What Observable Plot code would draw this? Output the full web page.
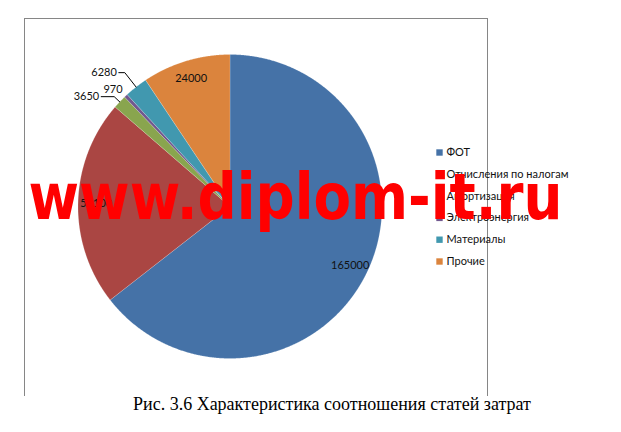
<!DOCTYPE html>
<html><head><meta charset="utf-8">
<script src="https://cdn.jsdelivr.net/npm/d3@7"></script>
<script src="https://cdn.jsdelivr.net/npm/@observablehq/plot@0.6"></script>
<style>
body{margin:0;background:#fff;}
#wrap{position:relative;width:621px;height:432px;overflow:hidden;}
#cap{position:absolute;left:0;top:395px;width:621px;font-family:"Liberation Serif","Times New Roman",serif;font-size:18px;line-height:18px;color:#000;}
#cap span{position:absolute;left:133px;top:0;white-space:nowrap;}
</style></head>
<body><div id="wrap"><div id="chart"></div><div id="cap"><span id="capt"></span></div></div>
<script>
const categories = ["ФОТ","Отчисления по налогам","Амортизация","Электроэнергия","Материалы","Прочие"];
const values = [165000, 56100, 3650, 970, 6280, 24000];
const colors = ["#4572A7","#AA4643","#89A54E","#71588F","#4198AF","#DB843D"];
const captionText = "Рис. 3.6 Характеристика соотношения статей затрат";
const watermark = "www.diplom-it.ru";

const W = 621, H = 396;
const cx = 229.5, cy = 206, R = 152;
const rows = categories.map((name, i) => ({name, value: values[i], color: colors[i]}));
const arcs = d3.pie().sort(null).value(d => d.value)(rows);
const pt = (a, r) => [cx + r * Math.sin(a), cy - r * Math.cos(a)];

const poly = [];
arcs.forEach(a => {
  poly.push({name: a.data.name, x: cx, y: cy});
  const n = Math.max(4, Math.ceil((a.endAngle - a.startAngle) / 0.005));
  for (let k = 0; k <= n; k++) {
    const ang = a.startAngle + (a.endAngle - a.startAngle) * k / n;
    const [x, y] = pt(ang, R);
    poly.push({name: a.data.name, x, y});
  }
  poly.push({name: a.data.name, x: cx, y: cy});
});

// layout of outside labels: [elbow radius factor, horizontal leader length]
const leaderLayout = {"Амортизация": [1.05, 13], "Материалы": [1.12, 6]};
const inLabels = [], outLabels = [], leaders = [];
arcs.forEach(a => {
  const mid = (a.startAngle + a.endAngle) / 2;
  const frac = (a.endAngle - a.startAngle) / (2 * Math.PI);
  if (frac > 0.05) {
    const [x, y] = pt(mid, R * 0.88);
    inLabels.push({x, y, t: String(a.data.value)});
  } else if (leaderLayout[a.data.name]) {
    const [f, len] = leaderLayout[a.data.name];
    const [x0, y0] = pt(mid, R);
    const [x1, y1] = pt(mid, R * f);
    const x2 = x1 - len;
    leaders.push({id: a.data.name, x: x0, y: y0}, {id: a.data.name, x: x1, y: y1}, {id: a.data.name, x: x2, y: y1});
    outLabels.push({x: x2 - 2, y: y1, t: String(a.data.value)});
  } else {
    const [x, y] = pt(mid, R * 1.06);
    outLabels.push({x: x + 3, y: y, t: String(a.data.value)});
  }
});

const legY0 = 152, legDy = 21.8;
const legend = rows.map((d, i) => ({name: d.name, color: d.color, x: 439, y: legY0 + i * legDy}));

const frameL = 24, frameR = 487, frameT = 18, frameB = 396;

const chart = Plot.plot({
  width: W, height: H,
  margin: 0,
  x: {domain: [0, W], range: [0, W], axis: null},
  y: {domain: [0, H], range: [0, H], axis: null},
  style: {background: "#fff", overflow: "visible"},
  marks: [
    Plot.ruleX([frameL, frameR], {y1: frameT, y2: frameB, stroke: "#868686", strokeWidth: 1}),
    Plot.ruleY([frameT], {x1: frameL, x2: frameR, stroke: "#868686", strokeWidth: 1}),
    Plot.line(poly, {x: "x", y: "y", z: "name", fill: d => rows.find(r => r.name === d.name).color, stroke: "#fff", strokeWidth: 0.3, strokeOpacity: 0.6, curve: "linear"}),
    Plot.line(leaders, {x: "x", y: "y", z: "id", stroke: "#000", strokeWidth: 1}),
    Plot.text(inLabels, {x: "x", y: "y", text: "t", fontSize: 11, fill: "#111", fontFamily: "Lato, 'Open Sans', sans-serif"}),
    Plot.text(outLabels, {x: "x", y: "y", text: "t", textAnchor: "end", fontSize: 11, fill: "#111", fontFamily: "Lato, 'Open Sans', sans-serif"}),
    Plot.dot(legend, {x: "x", y: "y", symbol: "square", r: 3.6, fill: "color", stroke: "none"}),
    Plot.text(legend, {x: d => d.x + 7, y: "y", text: "name", textAnchor: "start", fontSize: 11, fill: "#111", fontFamily: "Lato, 'Open Sans', sans-serif"}),
    Plot.text([watermark], {x: () => 28, y: () => 218, text: d => d, textAnchor: "start", lineAnchor: "bottom", fontSize: 64, fontWeight: "bold", fill: "#ff0000", fontFamily: "'DejaVu Sans', sans-serif"})
  ]
});
document.getElementById("chart").appendChild(chart);
d3.select(chart).selectAll("text").filter(function(){ return this.textContent === watermark; })
  .attr("textLength", 534).attr("lengthAdjust", "spacingAndGlyphs");
document.getElementById("capt").textContent = captionText;
</script></body></html>
